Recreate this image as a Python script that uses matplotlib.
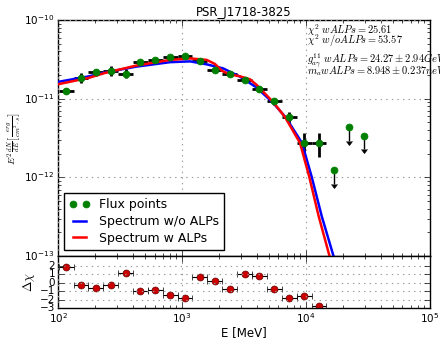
import numpy as np
import matplotlib
matplotlib.use('Agg')
import matplotlib.pyplot as plt

plt.style.use('classic')
plt.rcParams['figure.facecolor'] = 'white'
plt.rcParams['savefig.facecolor'] = 'white'
plt.rcParams['font.family'] = ['DejaVu Sans']
plt.rcParams['mathtext.fontset'] = 'cm'

# flux points (MeV, erg/cm2/s)
energy = [116.0, 152.9, 201.6, 265.8, 350.4, 461.9, 608.9, 802.7, 1058, 1395,
          1839, 2424, 3196, 4213, 5554, 7322, 9650, 12720]
bin_lo = [101.0, 133.2, 175.6, 231.5, 305.2, 402.3, 530.4, 699.3, 921.8, 1215,
          1602, 2112, 2784, 3670, 4839, 6379, 8410, 11090]
bin_hi = [133.2, 175.6, 231.5, 305.2, 402.3, 530.4, 699.3, 921.8, 1215, 1602,
          2112, 2784, 3670, 4839, 6379, 8410, 11090, 14610]
flux = [1.27e-11, 1.86e-11, 2.18e-11, 2.28e-11, 2.09e-11, 2.96e-11, 3.12e-11,
        3.40e-11, 3.53e-11, 3.05e-11, 2.33e-11, 2.06e-11, 1.75e-11, 1.33e-11,
        9.25e-12, 5.84e-12, 2.75e-12, 2.75e-12]
flux_err = [0.11e-11, 0.26e-11, 0.24e-11, 0.36e-11, 0.27e-11, 0.18e-11, 0.19e-11,
            0.20e-11, 0.21e-11, 0.18e-11, 0.16e-11, 0.12e-11, 0.12e-11, 0.11e-11,
            1.0e-12, 0.9e-12, 0.93e-12, 0.93e-12]

# upper limits
ul_energy = [16770, 22110, 29140]
ul_flux = [1.23e-12, 4.34e-12, 3.40e-12]

# residuals
resid = [1.87, -0.28, -0.65, -0.24, 1.18, -1.0, -0.85, -1.46, -1.83, 0.65,
         0.24, -0.77, 1.01, 0.85, -0.73, -1.83, -1.55, -2.8]

# model curves
e_noalp = [100, 178, 239, 426, 800, 1161, 1582, 2153, 2935, 4002, 5448, 6902,
           9283, 11120, 13390, 16600, 17460]
f_noalp = [1.64e-11, 1.93e-11, 2.16e-11, 2.56e-11, 2.92e-11, 2.99e-11, 2.74e-11,
           2.43e-11, 1.91e-11, 1.39e-11, 8.83e-12, 5.74e-12, 2.75e-12, 1.02e-12,
           3.24e-13, 1.03e-13, 7.9e-14]
e_alp = [100, 178, 239, 426, 800, 1161, 1582, 1845, 2102, 2438, 2935, 3535, 4002,
         5448, 6773, 8948, 10630, 12650, 15420, 16200]
f_alp = [1.53e-11, 1.85e-11, 2.13e-11, 2.64e-11, 3.12e-11, 3.26e-11, 3.12e-11,
         2.77e-11, 2.26e-11, 2.04e-11, 1.93e-11, 1.77e-11, 1.50e-11, 9.04e-12,
         5.86e-12, 2.75e-12, 1.02e-12, 3.24e-13, 1.03e-13, 7.9e-14]

energy = np.array(energy)
flux = np.array(flux)
xerr = [energy - np.array(bin_lo), np.array(bin_hi) - energy]

fig = plt.figure(figsize=(4.4, 3.41), dpi=100)
ax = fig.add_axes([0.132, 0.249, 0.845, 0.692])
axr = fig.add_axes([0.132, 0.0968, 0.845, 0.1525], sharex=ax)

ax.errorbar(energy, flux, xerr=xerr, yerr=flux_err, fmt='none', ecolor='k',
            elinewidth=2, capsize=0, zorder=2)
ax.plot(energy, flux, 'o', color='g', mec='g', ms=5, label='Flux points', zorder=4)
ax.errorbar(ul_energy, ul_flux, yerr=np.array(ul_flux) * 0.33, uplims=True,
            fmt='none', color='k', ecolor='k', elinewidth=1, capsize=2, zorder=2)
ax.plot(ul_energy, ul_flux, 'o', color='g', mec='g', ms=5, zorder=4)
ax.plot(e_noalp, f_noalp, color='b', lw=1.8, label='Spectrum w/o ALPs', zorder=3)
ax.plot(e_alp, f_alp, color='r', lw=1.8, label='Spectrum w ALPs', zorder=3)

ax.set_xscale('log')
ax.set_yscale('log')
ax.set_xlim(100, 1e5)
ax.set_ylim(1e-13, 1e-10)
ax.grid(True, which='major', color='0.6', linestyle=':', linewidth=0.8)
ax.tick_params(labelbottom=False, labelsize=7.5, pad=3)
ax.set_title('PSR_J1718-3825', fontsize=8.5, pad=3)
ax.set_ylabel(r'$E^2\,\frac{dN}{dE}\left[\frac{erg}{cm^2\cdot s}\right]$',
              fontsize=7, labelpad=0)

ax.legend(loc='lower left', numpoints=2, fontsize=9, handlelength=1.6,
          borderaxespad=0.5, labelspacing=0.3, fancybox=False)

txt = [r'$\chi^2\ wALPs = 25.61$',
       r'$\chi^2\ w/oALPs = 53.57$',
       r'$g^{11}_{a\gamma}\ wALPs = 24.27 \pm 2.94 GeV^{-1}$',
       r'$m_a wALPs = 8.948 \pm 0.237 neV$']
ypos = [0.958, 0.911, 0.83, 0.784]
for t, y in zip(txt, ypos):
    ax.text(0.67, y, t, transform=ax.transAxes, fontsize=7.5, va='center',
            ha='left', clip_on=False)

axr.errorbar(energy, resid, xerr=xerr, fmt='o', color='#cc0000', mec='#660000',
             ecolor='k', elinewidth=0.8, capsize=2, ms=5)
axr.set_ylim(-3, 3.2)
axr.set_yticks([-3, -2, -1, 0, 1, 2])
axr.grid(True, which='major', color='0.6', linestyle=':', linewidth=0.8)
axr.tick_params(axis='y', labelsize=7.5, pad=2)
axr.tick_params(axis='x', labelsize=7.5, pad=2)
axr.set_ylabel(r'$\Delta\chi$', fontsize=9, labelpad=2)
axr.set_xlabel('E [MeV]', fontsize=8.5, labelpad=1)

fig.savefig('out.png', dpi=100)
